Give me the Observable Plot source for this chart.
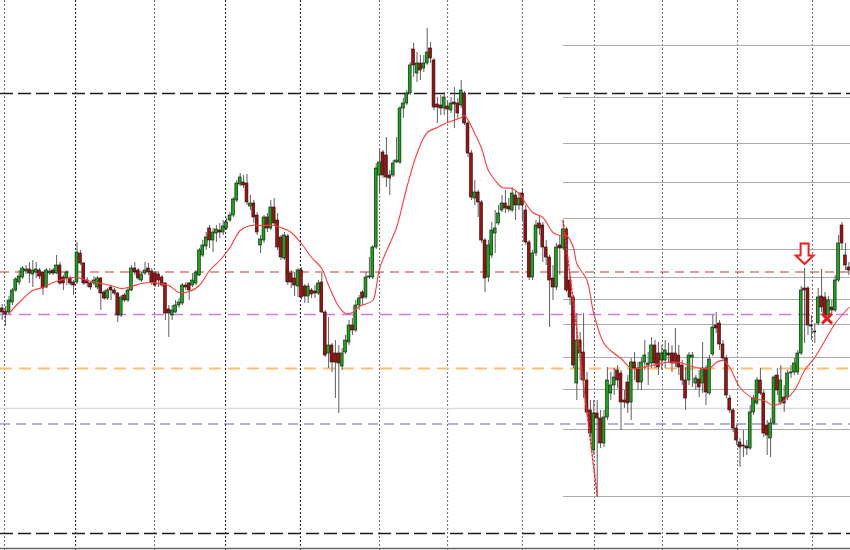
<!DOCTYPE html>
<html><head><meta charset="utf-8">
<script src="https://cdn.jsdelivr.net/npm/d3@7"></script>
<script src="https://cdn.jsdelivr.net/npm/@observablehq/plot@0.6"></script>
<style>html,body{margin:0;padding:0;background:#fff;} #chart svg{display:block;}</style>
</head><body><div id="chart"></div>
<script>
// OHLC per bar (price units; bar index = position in arrays)
const opens = [242,239,238,248,260,268,273,279,281,276,278,280,278,263,277,280,277,285,273,272,272,268,268,297,287,270,267,267,263,272,258,252,263,260,257,235,255,250,260,282,280,270,277,282,279,277,276,273,267,241,235,238,245,247,265,267,265,267,275,295,304,322,310,317,320,318,322,330,335,350,366,368,367,344,347,335,305,310,333,322,343,330,313,292,314,277,272,264,280,264,254,260,259,257,268,238,197,205,197,197,184,198,208,225,220,245,258,253,273,273,303,375,398,395,375,375,388,388,442,447,457,501,477,487,482,487,502,490,446,445,442,444,440,448,447,445,457,427,397,352,358,348,310,273,295,317,327,340,347,344,340,355,345,357,340,308,273,297,327,325,303,293,272,263,305,302,321,270,253,167,210,198,170,140,100,137,132,107,133,157,165,180,177,150,168,148,188,182,168,188,185,187,205,197,190,190,197,197,197,195,185,170,170,193,167,171,167,182,157,196,225,227,206,192,152,140,122,108,105,104,102,138,147,170,157,125,112,127,175,148,153,153,177,178,178,197,262,262,225,219,227,254,253,235,243,240,270,325,295,283];
const highs = [246,244,254,262,273,280,284,285,288,290,288,282,279,282,282,282,295,288,275,280,274,270,308,300,288,273,268,274,274,273,260,262,264,262,258,255,257,262,285,288,282,278,288,287,282,279,278,275,268,245,245,250,252,267,268,268,277,280,302,310,318,325,322,325,327,330,332,338,353,370,377,375,376,355,350,338,315,335,337,350,352,337,315,318,316,280,278,282,283,266,267,262,265,270,277,240,233,207,210,205,202,215,230,232,250,255,260,278,293,305,387,402,400,413,380,390,413,444,452,460,488,507,498,495,495,522,508,492,453,455,458,450,453,463,452,470,459,429,400,370,360,350,312,310,328,340,345,355,360,352,363,360,358,362,345,310,300,330,335,328,310,295,285,307,315,330,323,275,255,237,218,237,178,150,150,150,140,140,183,178,182,185,180,160,175,192,198,188,193,210,198,213,210,208,205,210,207,205,222,205,190,183,198,198,175,180,208,185,195,235,238,230,210,195,155,142,125,112,120,110,145,155,173,182,160,130,132,175,182,185,165,180,185,192,200,264,282,264,235,227,262,281,258,254,250,275,315,328,307,288];
const lows = [230,224,236,245,258,265,271,276,267,263,272,271,255,262,275,275,276,265,260,265,265,255,266,285,265,263,260,265,261,240,250,250,250,255,228,233,248,248,259,275,270,268,275,275,265,263,263,263,230,213,230,237,242,245,260,250,263,265,274,293,300,302,298,308,312,315,320,328,333,348,364,362,345,340,327,315,297,307,318,320,325,300,290,290,265,262,254,253,250,247,247,252,252,255,237,193,182,178,152,137,180,196,205,215,218,240,245,251,271,271,301,357,372,363,355,373,387,386,432,445,455,473,468,470,478,485,487,440,427,435,435,427,437,422,432,442,425,393,350,345,333,307,258,268,292,297,325,338,337,338,338,330,340,330,305,270,270,294,315,288,285,223,250,260,275,300,258,245,182,150,170,152,135,113,95,53,102,103,130,150,155,162,120,142,137,130,170,160,160,180,165,182,182,175,180,182,188,178,183,175,165,140,165,163,160,153,157,145,155,194,217,200,190,152,137,118,105,83,93,95,100,135,145,155,113,95,93,125,155,145,138,150,172,175,175,195,207,215,210,207,225,238,228,232,237,238,268,300,280,275];
const closes = [238,236,250,260,271,274,282,281,277,280,281,274,262,280,279,277,285,267,267,278,267,265,298,287,267,267,263,270,272,257,252,260,260,257,235,253,250,260,282,278,272,276,280,278,268,265,270,265,237,237,240,245,248,265,263,260,270,278,300,305,313,310,318,321,318,324,328,335,351,367,373,365,348,347,333,318,311,333,322,343,327,303,293,315,268,268,265,280,253,254,264,256,257,267,238,195,205,188,188,187,197,210,225,220,245,252,252,273,274,303,382,388,375,373,372,387,390,442,447,457,485,485,487,480,487,498,492,443,443,442,453,441,447,446,437,460,427,397,353,358,348,310,272,305,320,322,337,347,342,341,357,345,352,345,308,273,297,325,322,303,293,270,263,303,302,321,260,253,185,210,197,170,138,117,137,132,107,133,170,165,173,170,148,148,147,188,182,168,188,195,187,205,187,183,197,200,195,187,187,183,170,152,195,195,172,163,182,158,191,223,222,206,192,155,140,122,110,103,104,102,138,152,170,157,117,115,127,173,160,170,147,177,178,187,197,260,260,225,224,218,253,243,233,250,240,270,307,307,285,280];

// moving average at selected bars
const maBars = [2,5,9,12,15,19,22,25,29,32,35,38,41,44,46,49,52,55,58,61,64,67,70,73,76,80,82,85,88,91,94,96,99,101,103,105,109,110,111,114,116,119,122,125,128,131,135,136,139,141,143,145,147,150,152,154,156,159,162,164,166,168,169,172,174,177,180,182,185,187,191,195,199,204,208,210,212,214,217,221,224,227,230,233,236,239,242,245,249];
const maValues = [237,248,260,263,268,272,273,270,267,265,262,264,267,268,267,265,258,259,265,280,290,303,320,325,325,325,323,318,307,293,282,265,244,237,238,244,250,263,282,307,323,363,397,418,423,428,433,435,417,402,380,370,363,362,357,347,338,333,318,315,315,303,287,270,237,207,197,192,182,182,185,188,188,183,182,188,190,183,163,152,150,145,150,160,180,193,210,227,243];

// horizontal levels
const blackLevels = [457, 17];
const redLevel = [278.5];
const violetLevel = [236];
const orangeLevel = [182];
const blueLevel = [126.5];
const lightLevel = [142];
const baseLevel = [2];
const fibLevels = [505,453,407,368,332,301,273,251,226,193,161,121,54];
const fibStartBar = 165.1;
const lastEdge = 249.5;

// vertical period separators (bar positions)
const gridDark = [21.6, 65.7, 87.7];
const gridLight = [0.7, 44.8, 111, 131, 153, 174.2, 194.2, 216.3, 238.3];

// trend line and signals
const trendBars = [165, 175];
const trendPrices = [330, 55];
const arrowSignal = [{i: 236, p: 297}];
const crossSignal = [{i: 242.6, p: 232}];

const bars = opens.map((o, i) => ({i, open: o, close: closes[i], high: highs[i], low: lows[i]}));
const ma = maBars.map((b, k) => ({i: b, v: maValues[k]}));
const trend = trendBars.map((b, k) => ({i: b, v: trendPrices[k]}));

const arrowSymbol = {draw(ctx, size) {
  const k = Math.sqrt(size / Math.PI) / 10;
  ctx.moveTo(-4*k, -10*k); ctx.lineTo(4*k, -10*k); ctx.lineTo(4*k, 2*k);
  ctx.lineTo(8.8*k, 2*k); ctx.lineTo(0, 10.5*k); ctx.lineTo(-8.8*k, 2*k);
  ctx.lineTo(-4*k, 2*k); ctx.closePath();
}};
const crossSymbol = {draw(ctx, size) {
  const r = Math.sqrt(size / Math.PI);
  ctx.moveTo(-r, -r); ctx.lineTo(r, r); ctx.moveTo(-r, r); ctx.lineTo(r, -r);
}};

const chart = Plot.plot({
  width: 850, height: 550, margin: 0,
  x: {domain: [-0.5, 249.5], axis: null},
  y: {domain: [0, 550], axis: null},
  marks: [
    Plot.ruleX(gridLight, {stroke: "#6a6a6a", strokeDasharray: "2,2", strokeWidth: 1}),
    Plot.ruleX(gridDark, {stroke: "#111", strokeDasharray: "2,2", strokeWidth: 1}),
    Plot.ruleY(lightLevel, {stroke: "#dcdcdc", strokeWidth: 1.5}),
    Plot.ruleY(fibLevels, {x1: () => fibStartBar, x2: () => lastEdge, stroke: "#ababab", strokeWidth: 1.2}),
    Plot.ruleY(blackLevels, {stroke: "#1e1e1e", strokeDasharray: "13,5", strokeWidth: 1.3}),
    Plot.ruleY(redLevel, {stroke: "#c23838", strokeDasharray: "9,6", strokeWidth: 1.1}),
    Plot.ruleY(violetLevel, {stroke: "#cc7aee", strokeDasharray: "12,7", strokeWidth: 1.6}),
    Plot.ruleY(orangeLevel, {stroke: "#ffbe70", strokeDasharray: "12,7", strokeWidth: 2}),
    Plot.ruleY(blueLevel, {stroke: "#6066c8", strokeDasharray: "10,6", strokeWidth: 1.1}),
    Plot.ruleY(baseLevel, {stroke: "#666", strokeWidth: 1.5}),
    Plot.ruleX(bars, {x: "i", y1: "low", y2: "high", stroke: "#5e5e5e", strokeWidth: 1}),
    Plot.rect(bars, {x1: d => d.i - 0.42, x2: d => d.i + 0.42, y1: "open", y2: "close",
      fill: d => d.close >= d.open ? "#14a814" : "#a80e0e", stroke: "#111", strokeWidth: 0.6}),
    Plot.line(ma, {x: "i", y: "v", stroke: "#ff3b3b", strokeWidth: 1.1, curve: "catmull-rom"}),
    Plot.line(trend, {x: "i", y: "v", stroke: "#ff2a2a", strokeWidth: 1.5, strokeDasharray: "2,2"}),
    Plot.dot(arrowSignal, {x: "i", y: "p", symbol: arrowSymbol, r: 10, fill: "white", stroke: "#ee2020", strokeWidth: 2}),
    Plot.dot(crossSignal, {x: "i", y: "p", symbol: crossSymbol, r: 5, fill: "none", stroke: "#ee1a1a", strokeWidth: 3})
  ]
});
document.getElementById("chart").append(chart);
</script>
</body></html>
